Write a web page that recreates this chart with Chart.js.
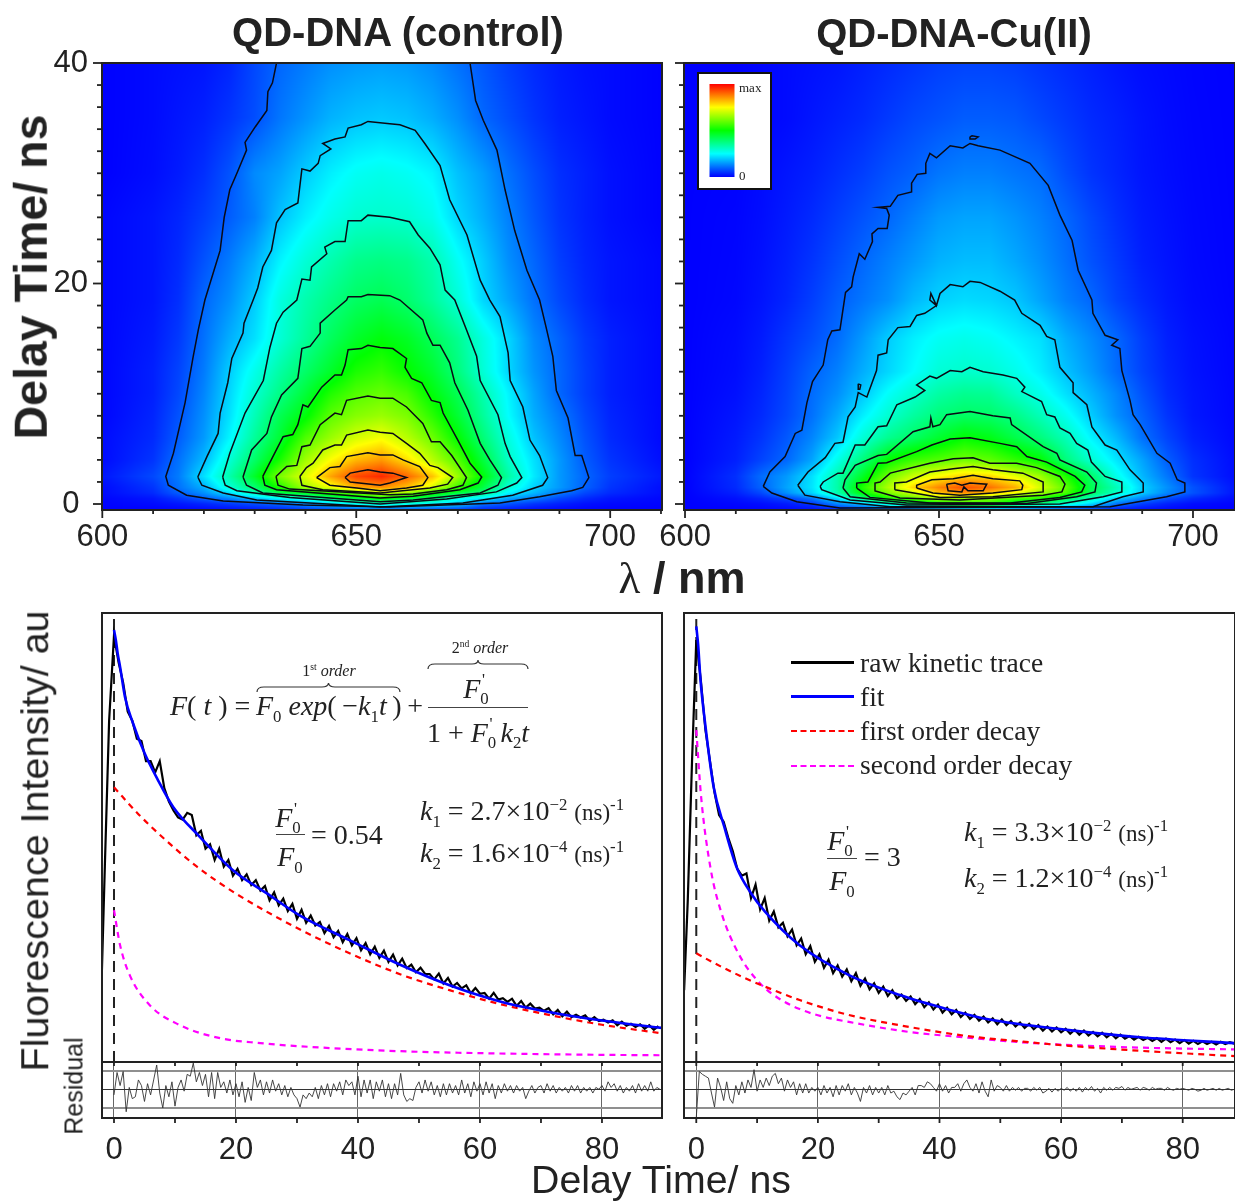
<!DOCTYPE html>
<html><head><meta charset="utf-8"><title>QD-DNA delay-time maps</title>
<script src="https://cdn.jsdelivr.net/npm/chart.js@4"></script>
<style>
html,body{margin:0;padding:0;background:#fff;width:1235px;height:1201px;overflow:hidden}
#page{position:relative;width:1235px;height:1201px}
canvas{position:absolute;filter:blur(.4px)}
.s,.m{position:absolute;white-space:nowrap;line-height:1;transform:translate(-50%,-50%);color:#222}
.s{font-family:"Liberation Sans",Arial,sans-serif}
.m{font-family:"Liberation Serif",serif;font-size:28px}
.l{transform:translate(0,-50%)}
.r{transform:translate(-50%,-50%) rotate(-90deg)}
.m sub,.m sup{font-size:.6em;line-height:0}
.ss{display:inline-block;position:relative;width:.45em;height:1em;vertical-align:baseline}
.ss sup{position:absolute;left:.1em;top:.6em}
.ss sub{position:absolute;left:0;top:1.75em}
.bar{position:absolute;height:0;width:63px;left:791px}
svg{position:absolute;overflow:visible}
</style></head><body><div id="page">
<canvas id="topL" width="680" height="540" style="left:0;top:40px"></canvas>
<canvas id="topR" width="615" height="540" style="left:620px;top:40px"></canvas>
<canvas id="kinL" width="680" height="470" style="left:0;top:600px"></canvas>
<canvas id="kinR" width="575" height="470" style="left:660px;top:600px"></canvas>
<canvas id="resL" width="680" height="151" style="left:0;top:1050px"></canvas>
<canvas id="resR" width="575" height="151" style="left:660px;top:1050px"></canvas>

<div class="s" style="left:398px;top:32px;font-size:40px;font-weight:bold">QD-DNA (control)</div>
<div class="s" style="left:954px;top:33px;font-size:40px;font-weight:bold">QD-DNA-Cu(II)</div>
<div class="s r" style="left:31px;top:277px;font-size:46.5px;font-weight:bold">Delay Time/ ns</div>
<div class="s" style="left:682px;top:578px;font-size:45px;font-weight:bold"><span style="font-family:'Liberation Serif';font-weight:normal">&lambda;</span> / nm</div>
<div class="s r" style="left:35px;top:841px;font-size:39.5px">Fluorescence Intensity/ au</div>
<div class="s r" style="left:74px;top:1086px;font-size:25px">Residual</div>
<div class="s" style="left:661px;top:1180px;font-size:39.3px">Delay Time/ ns</div>

<div class="m l" style="left:739px;top:87px;font-size:13px">max</div>
<div class="m l" style="left:739px;top:175px;font-size:13px">0</div>

<!-- equation -->
<div class="m l" style="left:170px;top:706px"><i>F</i>( <i>t</i> ) =</div>
<div class="m l" style="left:256px;top:706px"><i>F</i><sub>0</sub> <i>exp</i>(&thinsp;&minus;<i>k</i><sub>1</sub><i>t</i>&thinsp;)&thinsp;+</div>
<div class="m" style="left:329px;top:671px;font-size:16px">1<sup>st</sup> <i>order</i></div>
<div class="m" style="left:480px;top:648px;font-size:16px">2<sup>nd</sup> <i>order</i></div>
<svg style="left:257px;top:683px" width="143" height="10"><path d="M0,9 Q0,4 7,4 L65,4 Q71,4 71.5,0 Q72,4 78,4 L136,4 Q143,4 143,9" fill="none" stroke="#333" stroke-width="1.2"/></svg>
<svg style="left:428px;top:660px" width="100" height="10"><path d="M0,9 Q0,4 7,4 L44,4 Q50,4 50,0 Q50,4 56,4 L93,4 Q100,4 100,9" fill="none" stroke="#333" stroke-width="1.2"/></svg>
<div class="m" style="left:478px;top:686px"><i>F</i><span class="ss"><sup>'</sup><sub>0</sub></span></div>
<div style="position:absolute;left:428px;top:707px;width:100px;height:1px;background:#444"></div>
<div class="m" style="left:478px;top:730px">1 + <i>F</i><span class="ss"><sup>'</sup><sub>0</sub></span><i>k</i><sub>2</sub><i>t</i></div>

<div class="m" style="left:290px;top:815px"><i>F</i><span class="ss"><sup>'</sup><sub>0</sub></span></div>
<div style="position:absolute;left:276px;top:834px;width:29px;height:1px;background:#444"></div>
<div class="m" style="left:290px;top:857px"><i>F</i><sub>0</sub></div>
<div class="m l" style="left:311px;top:835px">= 0.54</div>
<div class="m l" style="left:420px;top:811px"><i>k</i><sub>1</sub> = 2.7&times;10<sup>&minus;2</sup> <span style="font-size:23px">(ns)</span><sup>-1</sup></div>
<div class="m l" style="left:420px;top:853px"><i>k</i><sub>2</sub> = 1.6&times;10<sup>&minus;4</sup> <span style="font-size:23px">(ns)</span><sup>-1</sup></div>

<div class="m" style="left:842px;top:838px"><i>F</i><span class="ss"><sup>'</sup><sub>0</sub></span></div>
<div style="position:absolute;left:827px;top:858px;width:30px;height:1px;background:#444"></div>
<div class="m" style="left:842px;top:881px"><i>F</i><sub>0</sub></div>
<div class="m l" style="left:864px;top:857px">= 3</div>
<div class="m l" style="left:964px;top:832px"><i>k</i><sub>1</sub> = 3.3&times;10<sup>&minus;2</sup> <span style="font-size:23px">(ns)</span><sup>-1</sup></div>
<div class="m l" style="left:964px;top:878px"><i>k</i><sub>2</sub> = 1.2&times;10<sup>&minus;4</sup> <span style="font-size:23px">(ns)</span><sup>-1</sup></div>

<!-- legend -->
<div class="bar" style="top:661px;border-top:3px solid #000"></div>
<div class="bar" style="top:695px;border-top:3px solid #0000ff"></div>
<div class="bar" style="top:730px;border-top:2px dashed #ff0000"></div>
<div class="bar" style="top:765px;border-top:2px dashed #ff00ff"></div>
<div class="m l" style="left:860px;top:663px;font-size:27.5px">raw kinetic trace</div>
<div class="m l" style="left:860px;top:697px;font-size:27.5px">fit</div>
<div class="m l" style="left:860px;top:731px;font-size:27.5px">first order decay</div>
<div class="m l" style="left:860px;top:765px;font-size:27.5px">second order decay</div>
</div>
<script>
// ---------- heat map grids (fraction of max) ----------
const heatWave = [600,610,615,620,625,630,635,640,645,650,655,660,665,670,675,680,685,690,695,700,711];
const heatTime = [-0.55,0,0.5,1,1.5,2.5,4,6,8,10,12,15,18.5,22,26,30,35,40];
const ctrlHeat = [
[0,0,.002,.005,.01,.02,.03,.05,.06,.07,.08,.07,.06,.05,.03,.02,.01,.005,.002,0,0],
[.003,.01,.02,.035,.055,.075,.10,.14,.2,.26,.3,.27,.24,.2,.11,.08,.05,.03,.015,.008,.002],
[.005,.02,.05,.09,.13,.19,.25,.29,.37,.44,.5,.44,.39,.27,.23,.16,.12,.07,.04,.02,.005],
[.01,.04,.09,.14,.22,.32,.43,.47,.55,.6,.7,.65,.52,.44,.375,.24,.18,.12,.07,.04,.01],
[.01,.05,.11,.17,.285,.39,.53,.66,.73,.83,.86,.81,.71,.56,.435,.29,.205,.15,.095,.05,.01],
[.02,.07,.12,.22,.33,.46,.62,.72,.84,.93,.96,.9,.81,.65,.49,.34,.23,.15,.1,.06,.02],
[.01,.05,.11,.18,.29,.4,.52,.655,.75,.82,.85,.78,.68,.58,.44,.305,.22,.15,.09,.05,.01],
[.01,.04,.09,.15,.24,.35,.45,.575,.65,.71,.74,.68,.605,.5,.385,.28,.19,.135,.08,.04,.005],
[.005,.035,.08,.14,.22,.32,.42,.49,.59,.63,.65,.62,.54,.45,.35,.25,.17,.12,.07,.035,.005],
[.005,.03,.07,.13,.21,.295,.37,.445,.53,.58,.6,.57,.49,.42,.33,.24,.16,.10,.06,.03,.005],
[.005,.03,.065,.12,.2,.27,.34,.40,.46,.525,.55,.505,.455,.38,.29,.21,.145,.10,.06,.03,.005],
[.005,.025,.055,.11,.17,.22,.29,.35,.41,.46,.49,.465,.415,.36,.28,.21,.135,.095,.055,.03,.005],
[.005,.02,.045,.10,.14,.2,.28,.33,.37,.405,.42,.395,.35,.29,.21,.16,.11,.07,.04,.02,.005],
[.005,.02,.04,.08,.12,.17,.24,.29,.33,.365,.375,.365,.33,.26,.2,.14,.1,.06,.035,.02,.005],
[.005,.02,.035,.06,.09,.125,.19,.235,.27,.295,.30,.295,.27,.21,.17,.125,.085,.05,.03,.015,0],
[0,.012,.025,.045,.08,.135,.16,.2,.235,.26,.27,.26,.24,.19,.155,.11,.075,.045,.03,.015,0],
[0,.01,.02,.03,.05,.075,.115,.145,.175,.19,.197,.19,.17,.14,.10,.075,.05,.03,.02,.01,0],
[0,.01,.015,.02,.035,.07,.10,.12,.14,.15,.155,.15,.135,.11,.085,.06,.04,.025,.015,.01,0]];
const cuHeat = [
[0,0,.002,.005,.01,.02,.04,.05,.06,.07,.08,.08,.07,.06,.05,.04,.02,.01,.005,.002,0],
[0,.006,.012,.025,.05,.13,.19,.29,.39,.49,.55,.54,.44,.36,.29,.21,.11,.06,.03,.012,0],
[0,.015,.035,.065,.115,.22,.37,.52,.6,.66,.64,.62,.57,.53,.42,.31,.2,.13,.075,.04,0],
[0,.03,.07,.14,.21,.33,.5,.62,.7,.81,.86,.81,.74,.65,.57,.41,.3,.2,.13,.08,0],
[0,.04,.095,.16,.225,.335,.53,.67,.79,.87,.92,.89,.83,.71,.59,.42,.32,.205,.14,.08,0],
[0,.045,.105,.15,.22,.33,.465,.61,.7,.755,.8,.79,.73,.655,.53,.4,.27,.18,.115,.05,0],
[0,.03,.065,.1,.16,.27,.38,.5,.555,.58,.61,.59,.545,.5,.38,.295,.225,.16,.09,.045,0],
[0,.025,.05,.085,.13,.195,.29,.36,.405,.455,.5,.48,.43,.38,.32,.24,.18,.11,.065,.03,0],
[0,.02,.04,.07,.11,.165,.235,.295,.345,.385,.405,.4,.37,.32,.265,.2,.14,.095,.05,.022,0],
[0,.015,.035,.065,.105,.14,.195,.255,.3,.34,.36,.355,.31,.27,.22,.175,.13,.08,.04,.02,0],
[0,.012,.03,.06,.095,.125,.17,.21,.25,.29,.3,.295,.27,.235,.19,.15,.105,.065,.035,.017,0],
[0,.01,.025,.05,.075,.105,.15,.2,.235,.26,.27,.26,.24,.22,.17,.135,.10,.06,.03,.015,0],
[0,.006,.018,.035,.06,.09,.115,.14,.18,.205,.215,.21,.195,.16,.125,.10,.065,.04,.022,.01,0],
[0,.005,.015,.03,.05,.075,.10,.125,.15,.175,.185,.185,.165,.14,.11,.08,.055,.03,.018,.008,0],
[0,.004,.012,.025,.04,.06,.08,.10,.125,.15,.16,.16,.145,.125,.10,.07,.045,.025,.015,.007,0],
[0,.002,.01,.02,.03,.045,.06,.08,.095,.115,.125,.125,.115,.105,.075,.05,.035,.02,.012,.006,0],
[0,0,.005,.01,.02,.03,.04,.055,.07,.08,.09,.09,.085,.07,.055,.04,.03,.018,.01,.005,0],
[0,0,.005,.01,.015,.02,.03,.04,.05,.06,.065,.065,.06,.05,.04,.03,.02,.012,.008,.004,0]];

// ---------- contour lines [wavelength nm, delay ns] ----------
const ctrlLevel1 = [[634.3,40],[633.5,38.2],[632.6,37.4],[632.4,35.7],[630.1,34.2],[628.1,32.8],[628.4,32.1],[626.5,30],[625.1,28.5],[624,26],[623.2,23],[622,21.2],[620.2,18.5],[618.9,15.8],[617.9,13.4],[616.3,9.2],[614,4.6],[612.5,2.5],[613,1.7],[616.6,.8],[623.8,.27],[639.5,-.1],[656.6,-.27],[678.3,.1],[686.1,.66],[692.4,1.2],[694.6,1.5],[695.8,2.4],[694.4,4.4],[693.1,4.4],[691.7,7.8],[689.4,10.3],[688.7,13.4],[687.5,15.8],[686.1,18.5],[683.6,21.2],[681.2,24.8],[679.3,28.5],[677.7,32.1],[675,34.8],[673.5,36.6],[672.4,40]];
const ctrlLevel2 = [[618.8,2.45],[620.6,4.3],[622.8,6.4],[623.2,8.25],[624.7,11],[625.5,13.2],[627.7,15.5],[627.9,16.4],[629.7,18.5],[630.6,19.6],[631.6,21.5],[633.3,23],[634.3,25.5],[636,26.7],[638.5,27.3],[639.3,30.4],[640.9,30.2],[642.5,30.9],[642.9,31.6],[645,32.2],[643.4,32.7],[645.8,33.1],[647.8,33.3],[648.4,34.1],[651,34.4],[652.3,34.7],[656.6,34.5],[658.6,34.4],[661.6,33.9],[663.5,32.7],[666.5,30.7],[668.4,27.6],[671.8,24.4],[674.4,20.3],[676.3,18.5],[678.3,17],[679.9,13.7],[680.3,11.2],[682.8,8.8],[684.2,5.8],[686.1,4.4],[687.7,2.4],[686.7,1.7],[680.8,.8],[671,.1],[654.7,-.27],[630.4,.36],[623.8,1],[619.6,1.7],[618.8,2.45]];
const ctrlLevel3 = [[623.7,2.45],[625.1,4.6],[628.1,8.25],[631.7,11.2],[633,14.2],[634.3,16.4],[635.6,17.4],[638.3,18.5],[639.3,20.4],[640.9,20.3],[641.2,21.5],[644.2,22.7],[643.8,23.3],[645.8,23.8],[647.8,23.8],[648.4,25.7],[651,25.7],[652.3,26.2],[656.6,26],[660.5,25.6],[662.2,24.4],[664.5,23.2],[666.5,21.7],[667.5,19.4],[669.4,18.5],[671.7,15.8],[673.7,13.4],[674.4,11.2],[677.9,8.1],[679.3,5.5],[680.3,4.3],[682.6,2.4],[681.6,1.9],[677.6,1.1],[667.8,.45],[654.7,0],[636.9,.6],[626.5,1.2],[624.2,1.7],[623.7,2.45]];
const ctrlLevel4 = [[627.7,2.45],[629.4,4.9],[632.4,6.4],[633.3,7.9],[635.3,9.9],[638.5,11.4],[639.3,14.1],[640.9,14.3],[642.9,15.5],[642.9,16.4],[645.8,17.6],[648.1,18.5],[648.4,18.8],[651,18.8],[652.3,19],[656.6,18.9],[658.6,18.5],[663.1,16.7],[663.9,15.5],[665.1,14.4],[666.5,14.4],[668.4,12.8],[669.4,11],[672,8.5],[674.4,5.5],[676.3,4],[678.6,2.4],[677.9,1.7],[674.4,1],[661.2,.36],[654.7,.2],[631.6,1],[628.4,1.7],[627.7,2.45]];
const ctrlLevel5 = [[631.6,2.5],[635.6,6.1],[637.5,6.3],[638.5,7.2],[639.5,9],[640.5,8.8],[643.2,10.6],[645.8,11.7],[647.1,11.7],[647.8,12.6],[648.4,14],[651,14.1],[652.3,14.4],[654.7,14.2],[657.2,14.1],[659.9,13.2],[659.6,12.4],[660.9,11.4],[662.9,11],[664.8,9.4],[666.5,9.2],[667.1,8.25],[670,5.8],[672.4,3.7],[674.7,2.45],[674,1.9],[670.4,1.3],[661.2,.7],[654.7,.55],[634.3,1.3],[632,1.7],[631.6,2.5]];
const ctrlLevel6 = [[634.2,2.5],[636.3,3.4],[638.3,3.5],[639.3,5.2],[640.9,5.35],[642.9,7.2],[645.8,8.25],[647.1,8.1],[648.1,9.4],[652.3,9.8],[654.7,9.6],[657.2,9.6],[659.9,8.8],[663.1,7.3],[664.8,5.65],[666.5,5.65],[668.8,4.4],[671.7,2.4],[671,1.7],[667.8,1.3],[661.2,.9],[656.6,.85],[636.9,1.35],[634.6,1.7],[634.2,2.5]];
const ctrlLevel7 = [[638.9,2.5],[640.2,3.3],[641.5,3.7],[643.4,4.9],[645.8,5.35],[647.1,5.35],[648.1,6.25],[652.3,6.7],[654.7,6.5],[657.2,6.4],[659.9,5.5],[662.5,4.6],[664.5,3.5],[666.1,3.3],[669,2.4],[668,1.8],[664.5,1.45],[654.7,1],[643.4,1.3],[639.3,1.7],[638.9,2.5]];
const ctrlLevel8 = [[642.2,2.4],[644.8,3.3],[646.8,3.4],[648.1,4.3],[652.3,4.65],[654.7,4.45],[657.2,4.45],[659.2,4],[662.5,3.4],[664.1,2.4],[663.1,1.7],[659.9,1.45],[654.7,1.2],[650.1,1.45],[644.8,1.7],[642.2,2.4]];
const ctrlLevel9 = [[647.8,2.4],[648.8,2.8],[652.3,3.1],[654.7,2.9],[657.2,2.8],[659.9,2.4],[656.6,1.9],[654.7,1.7],[648.8,2],[647.8,2.4]];
const cuLevel1 = [[615.4,1.6],[616.7,2.9],[619.7,4.3],[621.7,6.4],[623,6.7],[624,9.2],[625.1,11.1],[627.2,12.6],[628.1,14.9],[628.9,15.7],[630.5,15.8],[631.6,19.2],[632.8,19.7],[633.1,20.6],[634.3,22.7],[635.4,22.2],[636.9,23.8],[636.8,24.5],[638,25],[639.8,25],[640.2,26.2],[639.7,26.8],[638,26.9],[640.4,27],[641.9,28],[644.6,28.3],[644.6,29.1],[645.7,29.9],[647.4,30],[647.4,30.9],[648.2,31.8],[649.5,31.4],[652.2,32.5],[654.7,32.3],[656.1,32.7],[657.7,32.5],[662,32.1],[667.9,30.9],[671.5,28.9],[673.8,26.2],[676.2,23.9],[677.4,21.2],[680.1,18.5],[680.3,17.3],[682.7,15.3],[685.2,14.9],[684,14.4],[685.6,14.1],[686,12.1],[687.6,9.4],[688.2,8.1],[689.6,7.2],[692.9,4.6],[695.5,3.7],[696.9,2.2],[698.4,1.9],[698.4,1.1],[694.8,.66],[683.7,-.24],[630.5,-.36],[622,.2],[617.1,1],[615.4,1.6]];
const cuIsland1 = [[656.1,33.3],[656.5,33.4],[657.7,33.3],[657.1,33.1],[656.1,33.1],[656.1,33.3]];
const cuLevel2 = [[622.2,1.7],[624.2,2.9],[627.6,4.2],[629.5,5.5],[631.1,5.6],[632.1,7.9],[633.5,8.8],[634.1,10.1],[635.8,9.7],[637.7,12.1],[638,13.5],[639.7,13.7],[640,14.9],[641.9,16],[644.3,16.1],[645.6,17.1],[647.2,17.3],[649.5,18],[648.2,18.5],[648.4,19.1],[649.5,18],[650.2,19.1],[652.2,19.9],[654.7,19.7],[656.1,20.2],[658.1,20.1],[662,19.3],[664.9,18.5],[666.3,17.3],[669.9,16.2],[671.2,15.2],[672.8,14.9],[673.8,12.4],[676.4,11],[676.4,10.1],[679.1,9],[680.1,7],[682.7,5.35],[685,4.9],[687.6,3.1],[690.2,1.9],[690.2,1.1],[686.2,.66],[680.3,-.24],[640.4,-.24],[630.5,.2],[623.6,.8],[622.2,1.7]];
const cuIsland2 = [[634.1,10.9],[634.6,10.8],[634.4,10.4],[634.1,10.4],[634.1,10.9]];
const cuLevel3 = [[626.6,1.6],[627.2,2],[630.1,2.8],[631.1,2.8],[633.5,5.35],[635.4,5.35],[638,7],[639.7,7.1],[641.7,9],[645.3,9.7],[647.2,10.3],[645.6,10.8],[648.2,11.6],[649.5,11.4],[652.2,12.1],[654.5,12],[656.1,12.4],[658.7,12],[662.6,11.7],[665.3,11.4],[666.9,10.6],[666.3,10.2],[670.2,9.3],[671.2,8.1],[672.8,7.9],[673.8,6.9],[675.8,6.4],[677.1,5.5],[679.3,4.9],[680,3.8],[682.7,2.5],[686,2],[686,1.1],[682.3,.66],[673.8,0],[643.6,-.1],[632.5,.36],[626.9,1.3],[626.6,1.6]];
const cuLevel4 = [[631.1,1.45],[631.5,2.2],[633.5,3.5],[638,4.4],[639.7,4.5],[644.9,6.55],[648.2,7],[648.4,7.8],[648.8,7],[650.2,7.2],[651.5,8.1],[656.1,8.4],[660.6,8],[664,7.8],[664.3,7.2],[670.5,5.2],[673.2,4.6],[673.8,4],[679.1,2.9],[681,1.9],[680.7,1.1],[677.1,.66],[667.3,.05],[643.6,.1],[632.5,.66],[631.1,1.45]];
const cuLevel5 = [[633.8,1.45],[633.8,1.9],[636,2],[638,3.7],[639.7,3.75],[645.6,4.75],[648.6,5.35],[652.2,5.9],[656.1,6],[662,5.5],[665.3,5.2],[667.3,4.3],[671.2,3.8],[676.8,2.5],[678.7,1.7],[678.1,1.1],[673.8,.6],[664,.1],[648.2,.1],[636.4,.6],[633.8,1.45]];
const cuLevel6 = [[637.3,1.2],[637.4,1.9],[638.4,2],[640.4,2.8],[648.2,3.7],[652.8,4.1],[656.7,4.2],[660,3.7],[665.3,3.7],[669.2,3.3],[673.8,2.5],[674.8,1.8],[674.2,1.1],[670.5,.8],[654.1,.36],[642.3,.55],[637.3,1.2]];
const cuLevel7 = [[641.3,1.3],[641.3,1.9],[643.6,2],[648.2,2.9],[652.8,3.2],[656.7,3.4],[660.6,3.1],[666.5,2.8],[670.5,2],[670.5,1.1],[660.6,.66],[650.2,.6],[641.3,1.3]];
const cuLevel8 = [[645.6,1.45],[645.6,1.7],[648.6,2.2],[652.8,2.3],[656.7,2.6],[660.6,2.3],[665.9,2.1],[666.5,1.7],[666.3,1.3],[660.6,1],[654.1,.8],[648.8,1],[645.6,1.45]];
const cuLevel9 = [[651.5,1.8],[651.8,1.2],[654.5,1.1],[654.9,1.55],[655.7,1.2],[658.7,1.2],[659.4,1.8],[656.1,1.9],[654.5,1.7],[653.1,1.9],[651.5,1.8]];

// ---------- kinetic traces [delay ns, intensity au] ----------
const ctrlFit = [[0,96.2],[.3,94],[.6,91],[1,88],[1.8,81.3],[3.1,75.5],[5,68.8],[7.2,62.8],[9.7,56.8],[14.1,50.1],[19.5,42.7],[25,37.6],[30.5,32.6],[38.7,27.1],[47,21.6],[55,17.1],[63.3,13.5],[71.5,11.1],[79.7,9.3],[89.8,7.6]];
const ctrlFirst = [[0,61.2],[4,55.2],[8,50],[13.6,43.5],[20,37.5],[30.5,29.5],[39,24],[47,19.5],[55,16],[63,13],[72,10.3],[80,8.3],[89.8,6.4]];
const ctrlSecond = [[0,33.8],[1,26],[2.6,19.3],[5.9,12.6],[10.8,8.2],[17.4,5.3],[24,4.2],[30.5,3.5],[47,2.4],[63,1.9],[80,1.6],[89.8,1.5]];
const cuFit = [[0,97],[.3,93],[.7,85],[1.4,76],[2.85,61.3],[4.6,52.4],[6.6,43.5],[9,37.6],[11.3,33.5],[17,26],[25.2,19.3],[33.5,14.9],[41.7,11.6],[48,9.5],[61.3,7.1],[73,5.5],[88.6,4.2]];
const cuFirst = [[0,24.2],[4,21.3],[8,18.7],[12,16.4],[17,13.8],[25,10.5],[33.4,8.2],[43.9,5.9],[55.5,4.3],[61.3,3.6],[73,2.5],[88.6,1.3]];
const cuSecond = [[0,73.9],[.8,59],[2.3,43.5],[4,33.8],[7,24],[10.5,17.5],[14,13.8],[17,11.8],[20,10.4],[26.4,8.6],[35,6.7],[43.9,5.5],[55.5,4.2],[63,3.7],[73,3.2],[88.6,2.8]];
const ctrlRise = [[-2,19.3],[-1.5,43.6],[-.8,76]];
const cuRise = [[-2,16],[-1.4,36],[-.7,67]];
const rawStep = 0.75;
const ctrlRaw = [95,89,84.5,78,76,72,71.5,67,67,64.5,67,61,58,56,54.5,54,55.5,55,50.5,51.5,47.5,48.5,45,47.5,43.5,45,41.5,43,40.5,
41.8,39.4,40.5,38.2,39.2,36,37.8,34.9,36.4,33.6,35.2,31.9,33.9,31,32.6,30.4,31.2,28.7,30.3,27.8,29.2,26.7,28.5,26,27.6,24.9,26.5,24,25.7,23.2,24.8,22.3,23.9,21.5,23,20.9,
21.7,20,21,19.6,19.6,18.4,19.7,17.5,18.7,16.8,17.6,16.4,17.1,15.3,16.5,15.2,15.4,14.1,15.4,13.9,14.2,13.4,14.1,12.5,13.6,12.1,13,11.9,12.1,11.4,12,10.6,11.6,10.2,11.2,10,10.5,9.9,10.4,9.2,10,9.1,9.4,8.8,9.3,8.2,9,8.1,8.5,7.8,8.4,7.4,8.2,7.2,8];
const cuRaw = [94,85,74,67,60,55,53.5,50,47,43,41.5,42,36.5,39.5,34,36.5,31.5,33.5,30,31,28,29.5,26,27.5,24,25.8,22.3,24,21,22.8,19.8,21.5,19,20.6,18,19.8,17,18.6,16.2,17.5,15.4,16.8,14.7,16,14.2,
15,13.6,14.6,12.9,14,12.2,13.3,11.7,12.8,11,12.1,10.6,11.6,10,11,9.6,10.5,9.2,10.1,8.8,9.7,8.4,9.5,8.2,9.1,7.9,8.8,7.6,8.5,7.3,8.2,7,7.9,6.8,7.7,6.6,7.4,6.3,7.2,6.1,7,5.9,6.7,5.7,6.5,5.5,6.3,5.3,6.1,5.2,5.8,5,5.6,4.9,5.4,4.7,5.3,4.5,5.2,4.4,5,4.2,4.9,4.1,4.7,4,4.6,4,4.5,3.9,4.5,4,4.4,4.1];
const t0Line = [[0,0],[0,100]];

// ---------- residuals (step 0.5 ns from 0) ----------
const resStep = 0.5;
const ctrlRes = [-.3,.9,.2,.95,-1.2,.1,-.5,-.4,.5,.2,-.65,.3,-.3,.5,1.3,-.2,-1,.2,-.4,.4,
-.9,.1,.5,-.1,.8,.7,1.4,.4,.9,.2,.8,-.4,.9,-.5,.9,.1,.4,-.2,.5,-.3,
.3,-.4,.4,-.7,.1,-.6,.9,.1,.5,-.3,.4,-.2,.5,-.1,.3,-.3,.2,-.4,.1,-.3,
-.5,-.95,-.3,-.5,-.2,-.4,.1,-.5,.2,-.3,.3,-.4,.3,-.1,.4,-.3,.5,.2,.4,-.3,
.7,-.4,.5,-.2,.5,-.5,.4,-.1,.5,-.4,.3,-.5,.3,-.3,.85,-.3,-.65,-.5,-.6,.1,
.4,-.2,.5,-.1,.4,-.3,.2,-.4,.3,-.3,.3,-.2,.2,-.3,.5,-.2,.3,-.4,.4,-.1,
.3,-.3,.4,-.2,.3,-.5,.2,-.2,.3,-.1,.2,-.2,.2,-.1,.1,-.5,-.1,.2,-.2,.1,
.2,-.2,.3,-.1,.2,-.2,.1,-.1,.1,-.2,.2,-.1,.2,-.2,.1,-.1,.1,-.2,.1,0,
.2,-.1,.4,.1,.3,-.1,.2,-.2,.1,-.1,.2,-.2,.3,-.1,.2,-.1,.4,-.1,.1,0];
const cuRes = [-1.5,.95,.8,.7,.6,-.2,-.95,.6,.1,-.6,.4,-.5,-.75,.2,-.3,.4,-.2,.5,.1,1.05,
-.1,.5,.1,.6,.2,.7,.85,.3,.6,-.1,.5,.1,.4,-.3,.3,-.2,.3,-.2,.1,-.1,
.1,-.3,.2,-.2,.1,-.4,.2,-.3,.2,-.1,.3,-.3,.1,-.2,-.65,.1,-.2,.2,-.3,.1,
-.2,.1,-.3,.2,-.2,-.1,-.4,-.55,-.2,-.3,-.1,.1,-.3,.2,.2,.1,.4,.3,.1,-.1,
.3,-.1,.2,-.2,.1,.1,.3,-.1,.3,.5,.1,-.1,.3,-.2,.4,-.1,-.4,.5,-.1,.2,
.1,-.1,.2,-.1,.1,-.05,.1,-.1,.05,.05,-.1,.1,-.05,.1,-.2,-.1,.05,-.15,.05,-.1,
.05,-.05,.1,-.1,.05,-.1,.1,-.15,.1,-.05,.15,-.1,.05,-.2,.1,-.05,.1,-.05,.1,.05,
.15,-.05,.1,0,.05,.1,-.05,.1,.05,-.05,.1,0,.05,.05,-.05,.1,0,-.05,.05,0,
.05,0,-.05,.05,0,-.1,-.05,.05,-.05,0,.05,-.05,.05,-.05,0,.05,-.05,0,.05,0];

// ---------- helpers ----------
const stops = [[0,[0,0,255]],[.125,[0,128,255]],[.25,[0,255,255]],[.375,[0,255,128]],[.5,[0,255,0]],[.625,[128,255,0]],[.75,[255,255,0]],[.875,[255,128,0]],[1,[255,0,0]]];
function heatColor(v){
  v=Math.max(0,Math.min(1,v));
  for(let i=1;i<stops.length;i++){ if(v<=stops[i][0]){
    const a=stops[i-1],b=stops[i],f=(v-a[0])/(b[0]-a[0]);
    return [0,1,2].map(k=>a[1][k]+(b[1][k]-a[1][k])*f);
  }}
  return stops[stops.length-1][1];
}
function bin(arr,v){ let i=0; while(i<arr.length-2 && v>arr[i+1]) i++; return i; }
const pts = a => a.map(p=>({x:p[0],y:p[1]}));
const series = (arr,step) => arr.map((v,i)=>({x:i*step,y:v}));
const dark = '#222';
const tickFont = {family:'"Liberation Sans",Arial,sans-serif',size:31};

const heatPlugin = { id:'heat', beforeDatasetsDraw(chart,_,o){
  if(!o.grid) return;
  const {ctx,chartArea:a,scales:{x,y}}=chart;
  const L=Math.round(a.left),T=Math.round(a.top),W=Math.round(a.right)-L,H=Math.round(a.bottom)-T;
  const img=ctx.createImageData(W,H), g=o.grid;
  for(let py=0;py<H;py++){
    const t=Math.max(heatTime[0],Math.min(40,y.getValueForPixel(T+py+.5)));
    const j=bin(heatTime,t),fy=(t-heatTime[j])/(heatTime[j+1]-heatTime[j]);
    for(let px=0;px<W;px++){
      const w=x.getValueForPixel(L+px+.5);
      const i=bin(heatWave,w),fx=Math.max(0,(w-heatWave[i])/(heatWave[i+1]-heatWave[i]));
      const v=(g[j][i]*(1-fx)+g[j][i+1]*fx)*(1-fy)+(g[j+1][i]*(1-fx)+g[j+1][i+1]*fx)*fy;
      const c=heatColor(v),k=(py*W+px)*4;
      img.data[k]=c[0];img.data[k+1]=c[1];img.data[k+2]=c[2];img.data[k+3]=255;
    }
  }
  ctx.putImageData(img,L,T);
}};
const keyPlugin = { id:'colorKey', afterDraw(chart,_,o){
  if(!o.show) return;
  const {ctx,chartArea:a}=chart;
  const bx=a.left+14,by=a.top+10,bw=73,bh=116;
  ctx.save();
  ctx.fillStyle='#fff';ctx.fillRect(bx,by,bw,bh);
  ctx.strokeStyle='#111';ctx.lineWidth=2;ctx.strokeRect(bx,by,bw,bh);
  const gx=bx+11.5,gy=by+11,gw=25,gh=93;
  const gr=ctx.createLinearGradient(0,gy+gh,0,gy);
  stops.forEach(s=>gr.addColorStop(s[0],'rgb('+s[1].join(',')+')'));
  ctx.fillStyle=gr;ctx.fillRect(gx,gy,gw,gh);
  ctx.restore();
}};
const marksPlugin = { id:'marks', afterDraw(chart,_,o){
  const {ctx,chartArea:a,scales:{x,y}}=chart;
  ctx.save();
  ctx.strokeStyle=dark;ctx.lineWidth=2;
  ctx.strokeRect(a.left,a.top,a.right-a.left,a.bottom-a.top);
  const line=(x0,y0,x1,y1)=>{ctx.beginPath();ctx.moveTo(x0,y0);ctx.lineTo(x1,y1);ctx.stroke();};
  if(o.x){ x.ticks.forEach(tk=>{
    const len=tk.value%o.x.major===0?o.x.len:o.x.minor,p=x.getPixelForValue(tk.value);
    ctx.lineWidth=1.8;
    line(p,a.bottom,p,a.bottom+len);
    if(o.x.inner) line(p,a.top,p,a.top+o.x.inner);
  });}
  if(o.y){ y.ticks.forEach(tk=>{
    const len=tk.value%o.y.major===0?o.y.len:o.y.minor,p=y.getPixelForValue(tk.value);
    ctx.lineWidth=1.8;
    line(a.left-len,p,a.left,p);
  });}
  ctx.restore();
}};
Chart.defaults.animation=false;
Chart.register(heatPlugin,keyPlugin,marksPlugin);
const contour = (a,w) => ({data:pts(a),showLine:true,pointRadius:0,borderColor:'#0a0a14',borderWidth:w||1.5,tension:0,fill:false});
const noPad = s => {s.paddingLeft=0;s.paddingRight=0;s.paddingTop=0;s.paddingBottom=0;};

function topChart(id,grid,lines,xMin,xMax,yWidth,right,showY,showKey){
  return new Chart(document.getElementById(id),{type:'scatter',
    data:{datasets:lines.map(l=>contour(l))},
    options:{responsive:false,maintainAspectRatio:false,
      layout:{padding:{left:0,right:right,top:23,bottom:0}},
      plugins:{legend:{display:false},tooltip:{enabled:false},heat:{grid:grid},colorKey:{show:showKey},
        marks:{x:{major:50,len:8,minor:4},y:{major:20,len:9,minor:5}}},
      scales:{
        x:{type:'linear',min:xMin,max:xMax,grid:{display:false,drawTicks:false},border:{display:false},
          afterFit:s=>{s.height=70;noPad(s);},
          ticks:{stepSize:10,includeBounds:false,autoSkip:false,maxRotation:0,padding:9,font:tickFont,color:dark,
            callback:v=>v%50===0?String(v):''}},
        y:{type:'linear',min:-0.544,max:40,grid:{display:false,drawTicks:false},border:{display:false},
          afterFit:s=>{s.width=yWidth;noPad(s);},
          ticks:{display:showY,stepSize:2,includeBounds:false,autoSkip:false,padding:14,crossAlign:'center',font:tickFont,color:dark,
            callback:v=>v%20===0?String(v):''}}
      }}});
}
function kinChart(id,fit,raw,first,second,xMin,xMax,left,right){
  const dash=(a,c)=>({data:pts(a),showLine:true,pointRadius:0,borderColor:c,borderWidth:2.2,borderDash:[6,5],cubicInterpolationMode:'monotone'});
  return new Chart(document.getElementById(id),{type:'scatter',
    data:{datasets:[
      {label:'fit',data:pts(fit),showLine:true,pointRadius:0,borderColor:'#0000ff',borderWidth:2.6,cubicInterpolationMode:'monotone'},
      {label:'raw kinetic trace',data:raw,showLine:true,pointRadius:0,borderColor:'#000',borderWidth:2.2,tension:0},
      Object.assign({label:'first order decay'},dash(first,'#ff0000')),
      Object.assign({label:'second order decay'},dash(second,'#ff00ff')),
      {label:'t0',data:pts(t0Line),showLine:true,pointRadius:0,borderColor:'#222',borderWidth:2,borderDash:[11,7],tension:0}
    ]},
    options:{responsive:false,maintainAspectRatio:false,
      layout:{padding:{left:left,right:right,top:13,bottom:8}},
      plugins:{legend:{display:false},tooltip:{enabled:false}, marks:{}},
      scales:{x:{type:'linear',display:false,min:xMin,max:xMax},y:{type:'linear',display:false,min:0,max:100}}}});
}
function resChart(id,vals,xMin,xMax,yWidth,right){
  return new Chart(document.getElementById(id),{type:'scatter',
    data:{datasets:[{label:'Residual',data:series(vals,resStep),showLine:true,pointRadius:0,borderColor:'#333',borderWidth:.9,tension:0}]},
    options:{responsive:false,maintainAspectRatio:false,
      layout:{padding:{left:0,right:right,top:12,bottom:0}},
      plugins:{legend:{display:false},tooltip:{enabled:false},marks:{x:{major:10,len:5,minor:5,inner:4}}},
      scales:{
        x:{type:'linear',min:xMin,max:xMax,border:{display:false},
          grid:{drawTicks:false,lineWidth:1,color:c=>c.tick&&c.tick.value%20===0?'#666':'rgba(0,0,0,0)'},
          afterFit:s=>{s.height=83;noPad(s);},
          ticks:{stepSize:10,includeBounds:false,autoSkip:false,maxRotation:0,padding:14,font:tickFont,color:dark,
            callback:v=>v%20===0?String(v):''}},
        y:{type:'linear',min:-1.535,max:1.46,border:{display:false},
          grid:{drawTicks:false,lineWidth:c=>c.tick&&c.tick.value===0?1:2,color:c=>c.tick&&c.tick.value===0?'#333':'#8f8f8f'},
          afterFit:s=>{s.width=yWidth;noPad(s);},
          ticks:{display:false,stepSize:1,includeBounds:false}}
      }}});
}
topChart('topL',ctrlHeat,[ctrlLevel1,ctrlLevel2,ctrlLevel3,ctrlLevel4,ctrlLevel5,ctrlLevel6,ctrlLevel7,ctrlLevel8,ctrlLevel9],599.94,710.2,102,18,true,false);
topChart('topR',cuHeat,[cuLevel1,cuIsland1,cuLevel2,cuIsland2,cuLevel3,cuLevel4,cuLevel5,cuLevel6,cuLevel7,cuLevel8,cuLevel9],599.8,708.27,64,0,false,true);
kinChart('kinL',ctrlFit,pts(ctrlRise).concat(series(ctrlRaw,rawStep)),ctrlFirst,ctrlSecond,-1.967,89.84,102,18);
kinChart('kinR',cuFit,pts(cuRise).concat(series(cuRaw,rawStep)),cuFirst,cuSecond,-2.02,88.6,24,0);
resChart('resL',ctrlRes,-1.967,89.84,102,18);
resChart('resR',cuRes,-2.02,88.6,24,0);
</script>
</body></html>
